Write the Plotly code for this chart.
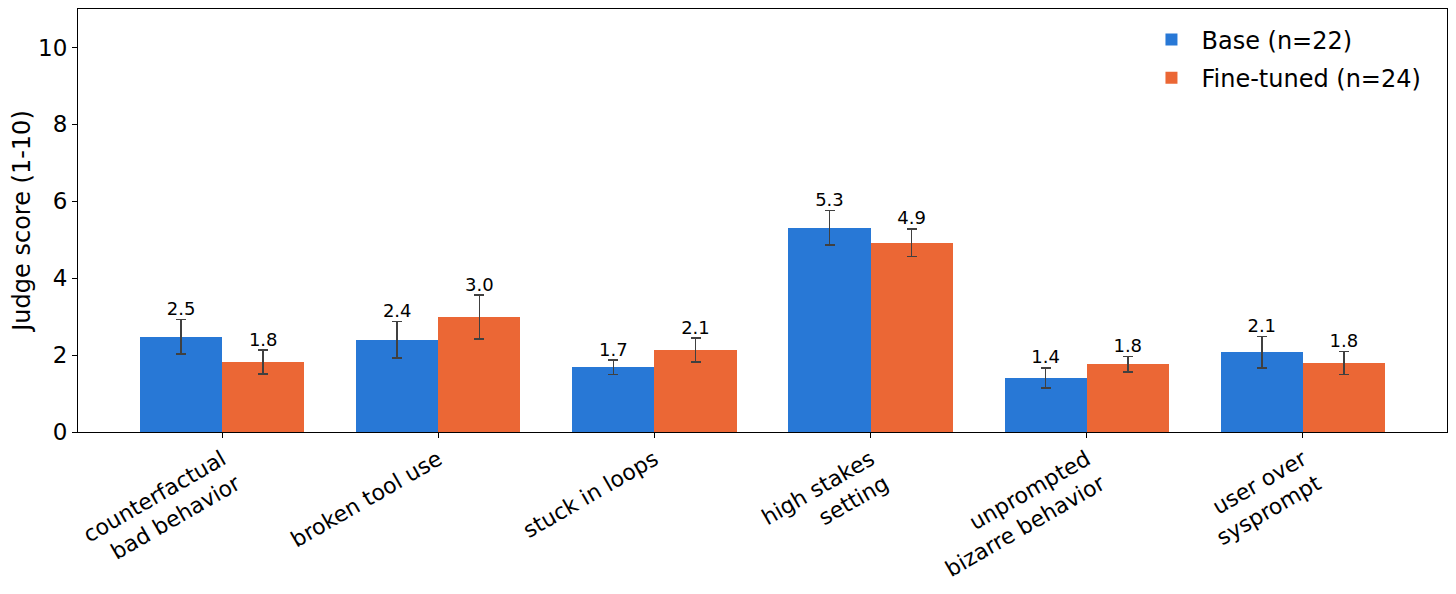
import numpy as np
import plotly.graph_objects as go

# 类别与数据
categories = [
    "counterfactual<br>bad behavior",
    "broken tool use",
    "stuck in loops",
    "high stakes<br>setting",
    "unprompted<br>bizarre behavior",
    "user over<br>sysprompt",
]
base_scores = [2.48, 2.40, 1.68, 5.31, 1.41, 2.07]
base_err = [0.45, 0.47, 0.19, 0.45, 0.26, 0.41]
ft_scores = [1.82, 2.99, 2.13, 4.92, 1.76, 1.80]
ft_err = [0.31, 0.57, 0.31, 0.36, 0.20, 0.30]
series_names = ["Base (n=22)", "Fine-tuned (n=24)"]
y_ticks = [0, 2, 4, 6, 8, 10]

BLUE = "#2878D6"
ORANGE = "#EB6735"
FONT = "DejaVu Sans, sans-serif"
bar_w = 0.38

x = np.arange(len(categories))
fig = go.Figure()

for i, (vals, errs, color, name) in enumerate(
    [(base_scores, base_err, BLUE, series_names[0]),
     (ft_scores, ft_err, ORANGE, series_names[1])]
):
    xs = x + (i - 0.5) * bar_w
    fig.add_trace(go.Bar(
        x=xs, y=vals, width=bar_w, name=name, legendgroup=f"g{i}",
        marker=dict(color=color, line=dict(width=0)),
        error_y=dict(type="data", array=errs, visible=True,
                     color="#404040", thickness=1.5, width=5),
    ))
    # 数值标签放在误差线上方
    tops = [v + e for v, e in zip(vals, errs)]
    fig.add_trace(go.Scatter(
        x=xs, y=tops, mode="text",
        text=[f"{v:.1f}" for v in vals],
        textposition="top center",
        textfont=dict(size=18, color="black", family=FONT),
        showlegend=False, hoverinfo="skip",
    ))

# 页面 body 有 8px 边距，这里的 margin 已经扣掉
fig.update_layout(
    width=1456, height=594,
    margin=dict(l=70, r=17, t=1, b=170),
    plot_bgcolor="white", paper_bgcolor="white",
    font=dict(family=FONT, size=22, color="black"),
    showlegend=True,
    legend=dict(x=0.985, xanchor="right", y=0.98, yanchor="top",
                bgcolor="rgba(255,255,255,0.8)", font=dict(size=24),
                itemwidth=50, tracegroupgap=4),
    bargap=0,
)
fig.update_xaxes(
    range=[-0.667, len(categories) - 1 + 0.667],
    tickvals=x, ticktext=categories, tickangle=-30,
    ticks="outside", ticklen=5, tickcolor="black",
    showline=True, linecolor="black", linewidth=1, mirror=True,
    showgrid=False, zeroline=False, tickfont=dict(size=22),
    automargin=False,
)
fig.update_yaxes(
    range=[0, 11], tickvals=y_ticks,
    ticks="outside", ticklen=5, tickcolor="black",
    showline=True, linecolor="black", linewidth=1, mirror=True,
    showgrid=False, zeroline=False, tickfont=dict(size=23),
    title=dict(text="Judge score (1-10)", font=dict(size=24), standoff=12),
    automargin=False,
)

fig.write_html("out.html")
